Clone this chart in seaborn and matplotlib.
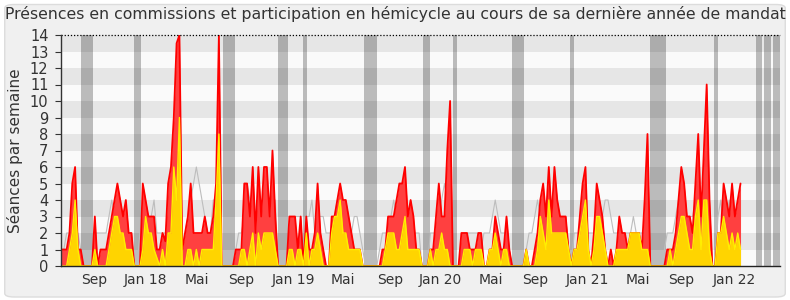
import numpy as np
import pandas as pd
import matplotlib
matplotlib.use("Agg")
import matplotlib.pyplot as plt
import seaborn as sns
from matplotlib.patches import FancyBboxPatch

sns.set_style("white")
plt.rcParams["font.family"] = ["DejaVu Sans"]

title = "Présences en commissions et participation en hémicycle au cours de sa dernière année de mandat"
ylabel = "Séances par semaine"

# Weekly values (week index 0 = mid-June 2017)
presences_total = [
    1, 1, 1, 2, 5, 6, 1, 1,
    0, 0, 0, 0,
    3, 0, 1, 1, 1, 2, 3, 4, 5, 4, 3, 4, 2, 2, 0, 0,
    0, 5, 4, 3, 3, 3, 1, 1, 2, 1.5, 5, 6, 9, 13.5, 14, 1,
    2, 3, 5, 2, 2, 2, 2, 3, 2, 2, 3, 5, 14,
    0, 0, 0, 0, 0,
    1, 1, 1, 5, 5, 3, 6, 2, 6, 3, 6, 6, 3, 7, 3,
    0, 0, 0, 0,
    3, 3, 3, 1, 3,
    0,
    3, 1, 1, 2, 5, 2, 1, 0, 0, 3, 3, 4, 5, 4, 4, 3, 2, 1, 1, 1, 0,
    0, 0, 0, 0,
    0, 0, 1, 1, 3, 3, 3, 4, 5, 5, 6, 3, 4, 3, 1, 1,
    0, 0, 0,
    1, 1, 3, 5, 3, 3, 7, 10,
    0, 0, 0,
    2, 2, 2, 1, 1, 1, 2, 2, 0, 0, 1, 1, 3, 2, 1, 1, 3, 1,
    0, 0, 0, 0, 0,
    1, 0, 0, 1, 2, 4, 5, 3, 6, 3, 6, 4, 3, 3, 3, 1,
    0,
    1, 1, 3, 5, 6, 1, 0, 2, 5, 4, 3, 1, 0, 1, 0, 1, 3, 2, 2, 1, 2, 2, 2, 2, 1, 4, 8,
    0, 0, 0, 0, 0,
    0, 1, 1, 1, 2, 4, 6, 5, 3, 3, 2, 5, 8, 3, 7, 11, 4,
    0, 0,
    2, 2, 5, 4, 3, 5, 3, 4, 5,
]

presences_hemicycle = [
    0, 0, 0, 1, 2, 4, 1, 0,
    0, 0, 0, 0,
    1, 0, 0, 0, 0, 1, 2, 3, 3, 2, 2, 1, 1, 1, 0, 0,
    0, 1, 3, 2, 2, 1, 0.5, 0, 1, 0, 2, 2, 6, 4, 9, 0,
    0, 1, 1, 0, 1, 0, 1, 1, 1, 1, 1, 4, 8,
    0, 0, 0, 0, 0,
    0, 0, 1, 1, 0, 1, 2, 0, 2, 1, 2, 2, 2, 2, 1,
    0, 0, 0, 0,
    1, 1, 0, 1, 1,
    0,
    2, 0, 1, 1, 2, 1, 0, 0, 0, 2, 3, 3, 4, 2, 2, 1, 1, 1, 1, 1, 0,
    0, 0, 0, 0,
    0, 0, 0, 1, 2, 2, 2, 1, 1, 2, 3, 1, 1, 1, 1, 1,
    0, 0, 0,
    1, 0, 1, 1, 2, 1, 1, 0,
    0, 0, 0,
    0, 1, 1, 1, 0, 1, 1, 1, 0, 0, 1, 1, 2, 1, 0, 1, 1, 0,
    0, 0, 0, 0, 0,
    1, 0, 0, 0, 1, 3, 2, 1, 4, 2, 2, 2, 2, 2, 2, 1,
    0,
    1, 1, 2, 3, 4, 1, 0, 1, 3, 3, 2, 1, 0, 0, 0, 1, 1, 1, 1, 1, 2, 2, 2, 2, 1, 1, 1,
    0, 0, 0, 0, 0,
    0, 0, 1, 0, 1, 2, 3, 3, 2, 1, 1, 3, 4, 1, 4, 4, 1,
    0, 0,
    2, 2, 3, 2, 1, 2, 1, 2, 1,
]

mediane = [
    0.5, 1, 2, 2, 2, 2, 2, 1,
    0, 0, 0, 0,
    2, 2, 2, 2, 2, 3, 4, 3, 2, 2, 2, 2, 2, 2, 0, 0,
    2, 2, 2, 2, 3, 4, 2, 2, 2, 2, 2, 2, 2, 2, 2, 1,
    2, 3, 4, 5, 6, 5, 4, 3, 2, 2, 4, 4, 2,
    0, 0, 0, 0, 0,
    1, 2, 2, 3, 5, 4, 3, 3, 3, 3, 2, 3, 3, 3, 4,
    0, 0, 0, 0,
    2, 2, 3, 3, 3,
    0,
    3, 3, 4, 2, 3, 3, 3, 2, 2, 2, 3, 4, 4, 3, 3, 3, 2, 3, 3, 2, 1,
    0, 0, 0, 0,
    0, 1, 2, 2, 2, 3, 4, 3, 3, 3, 4, 3, 3, 2, 2, 2,
    0, 0, 0,
    2, 2, 2, 3, 4, 5, 4, 2,
    0, 0, 0,
    1, 2, 2, 2, 2, 2, 2, 1, 2, 2, 2, 3, 4, 3, 2, 2, 2, 1,
    0, 0, 0, 0, 0,
    1, 2, 2, 3, 4, 3, 3, 3, 3, 3, 2, 3, 3, 3, 3, 1,
    0,
    2, 2, 2, 2, 2, 2, 2, 2, 3, 3, 3, 4, 4, 3, 2, 2, 2, 2, 2, 2, 2, 3, 2, 2, 2, 2, 2,
    0, 0, 0, 0, 0,
    1, 2, 2, 2, 3, 4, 5, 4, 3, 3, 3, 4, 3, 3, 4, 3, 2,
    0, 0,
    3, 4, 2, 3, 4, 3, 2, 1, 1,
]

# Parliamentary holidays (start week, end week)
vacances = [(7.1, 11.3), (25.9, 28.4), (57.4, 61.7), (77, 80.5), (85.8, 87.2),
            (107.4, 112), (128.4, 130.7), (139, 140.4), (160, 164.2),
            (180.5, 181.9), (209, 214.4), (231.6, 233), (246.5, 248.6),
            (249.3, 251.8), (252.5, 255)]

tick_labels = ["Sep", "Jan 18", "Mai", "Sep", "Jan 19", "Mai", "Sep", "Jan 20",
               "Mai", "Sep", "Jan 21", "Mai", "Sep", "Jan 22"]
tick_weeks = [11.7, 30.1, 48.2, 63.8, 82.3, 100.0, 116.7, 134.7, 152.5, 168.0,
              186.7, 204.6, 220.1, 238.8]

n = len(presences_total)
assert n == len(presences_hemicycle) == len(mediane)
df = pd.DataFrame({"semaine": np.arange(n), "total": presences_total,
                   "hemicycle": presences_hemicycle, "mediane": mediane})

fig = plt.figure(figsize=(7.9, 3.0), dpi=100, facecolor="white")
bg = FancyBboxPatch((0.006, 0.01), 0.988, 0.975, boxstyle="round,pad=0,rounding_size=0.012",
                    transform=fig.transFigure, facecolor="#f0f0f0",
                    edgecolor="#dcdcdc", lw=1, zorder=-10)
fig.patches.append(bg)
ax = fig.add_axes([61 / 790, 34 / 300, 719 / 790, 231 / 300])
ax.set_zorder(1)
ax.set_facecolor("#fafafa")

for y0 in range(1, 14, 2):
    ax.axhspan(y0, y0 + 1, color="#e6e6e6", lw=0, zorder=0)
for a, b in vacances:
    ax.axvspan(a, b, color="black", alpha=0.25, lw=0, zorder=1)

sns.lineplot(data=df, x="semaine", y="mediane", color="#bdbdbd", lw=0.8, ax=ax, zorder=2)
ax.fill_between(df["semaine"], df["total"], color="#ff4040", lw=0, zorder=3)
sns.lineplot(data=df, x="semaine", y="total", color="#ff0000", lw=1.3, ax=ax, zorder=4)
ax.fill_between(df["semaine"], df["hemicycle"], color="#ffd400", lw=0, zorder=5)
sns.lineplot(data=df, x="semaine", y="hemicycle", color="#ffee00", lw=1.0, ax=ax, zorder=6)

ax.axhline(14, color="black", ls=(0, (1, 1.5)), lw=0.9, zorder=7, clip_on=False)

ax.set_xlim(0, 255)
ax.set_ylim(0, 14)
ax.set_yticks(range(0, 15))
ax.set_yticklabels([str(i) for i in range(0, 15)], fontsize=10.5, color="#333333")
ax.set_xticks(tick_weeks)
ax.set_xticklabels(tick_labels, fontsize=10, color="#333333")
ax.tick_params(axis="x", length=0, pad=5)
ax.tick_params(axis="y", length=4, width=0.8, color="#333333", pad=5, left=True)
ax.set_xlabel("")
ax.set_ylabel(ylabel, fontsize=11, color="#333333", labelpad=5)

for s in ["top", "right"]:
    ax.spines[s].set_visible(False)
ax.spines["left"].set_color("#333333")
ax.spines["left"].set_linewidth(1)
ax.spines["bottom"].set_color("#222222")
ax.spines["bottom"].set_linewidth(1)
ax.spines["left"].set_zorder(8)
ax.spines["bottom"].set_zorder(8)

fig.text(0.5, 0.953, title, ha="center", va="center", fontsize=11.3, color="#333333")

fig.savefig("out.png", dpi=100, facecolor=fig.get_facecolor())
